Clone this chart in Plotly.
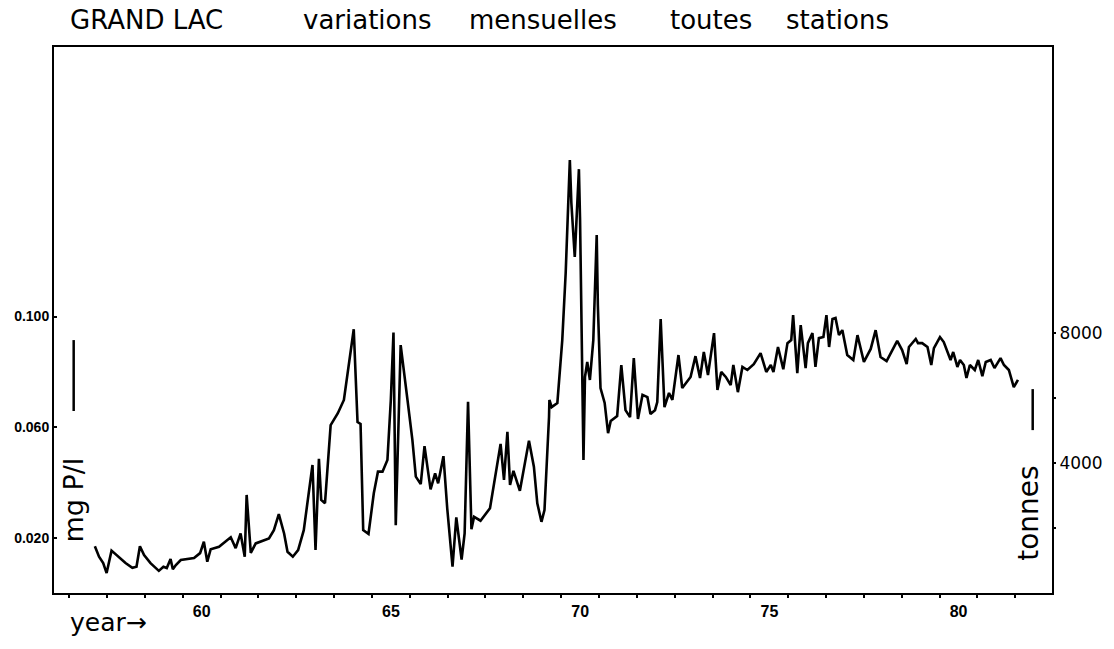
import plotly.graph_objects as go

# ---- data (decimal year, mg P/l) ----
years = [
57.68, 57.79, 57.90, 57.99, 58.12, 58.32, 58.49, 58.67, 58.78, 58.87,
58.98, 59.15, 59.37, 59.49, 59.58, 59.68, 59.74, 59.82, 59.95, 60.30,
60.46, 60.56, 60.65, 60.74, 60.96, 61.27, 61.40, 61.53, 61.64, 61.69,
61.80, 61.93, 62.28, 62.41, 62.54, 62.68, 62.77, 62.91, 63.05, 63.20,
63.34, 63.43, 63.51, 63.60, 63.66, 63.76, 63.91, 64.10, 64.26, 64.39,
64.52, 64.62, 64.70, 64.77, 64.91, 65.05, 65.16, 65.28, 65.41, 65.50,
65.57, 65.63, 65.69, 65.76, 65.94, 66.07, 66.16, 66.29, 66.39, 66.55,
66.67, 66.75, 66.89, 66.99, 67.13, 67.23, 67.37, 67.45, 67.54, 67.63,
67.70, 67.87, 68.12, 68.40, 68.49, 68.58, 68.65, 68.74, 68.91, 69.15,
69.28, 69.37, 69.48, 69.56, 69.68, 69.69, 69.75, 69.90, 70.03, 70.12,
70.23, 70.27, 70.36, 70.41, 70.47, 70.50, 70.56, 70.59, 70.63, 70.69,
70.76, 70.85, 70.94, 70.97, 71.04, 71.15, 71.24, 71.31, 71.48, 71.59,
71.70, 71.82, 71.92, 72.03, 72.15, 72.28, 72.36, 72.48, 72.54, 72.63,
72.73, 72.85, 72.94, 73.10, 73.20, 73.42, 73.55, 73.67, 73.77, 73.88,
74.04, 74.13, 74.23, 74.35, 74.48, 74.55, 74.67, 74.79, 74.92, 75.09,
75.27, 75.42, 75.54, 75.61, 75.73, 75.87, 75.98, 76.08, 76.13, 76.24,
76.33, 76.46, 76.52, 76.64, 76.72, 76.81, 76.93, 77.01, 77.08, 77.17,
77.25, 77.34, 77.43, 77.56, 77.72, 77.83, 78.00, 78.18, 78.31, 78.44,
78.60, 78.72, 78.88, 79.01, 79.13, 79.19, 79.37, 79.43, 79.54, 79.68,
79.78, 79.85, 80.01, 80.11, 80.29, 80.36, 80.47, 80.54, 80.64, 80.71,
80.80, 80.93, 81.02, 81.13, 81.22, 81.35, 81.45, 81.61, 81.70, 81.83,
81.96, 82.07,
]
mg_p_l = [
0.0171, 0.0133, 0.0110, 0.0074, 0.0155, 0.0132, 0.0110, 0.0093, 0.0097, 0.0171,
0.0139, 0.0110, 0.0082, 0.0097, 0.0092, 0.0125, 0.0088, 0.0103, 0.0121, 0.0128,
0.0146, 0.0187, 0.0115, 0.0160, 0.0169, 0.0203, 0.0164, 0.0217, 0.0133, 0.0356,
0.0147, 0.0181, 0.0199, 0.0229, 0.0287, 0.0217, 0.0151, 0.0133, 0.0157, 0.0229,
0.0362, 0.0464, 0.0157, 0.0486, 0.0338, 0.0326, 0.0608, 0.0651, 0.0699, 0.0832,
0.0954, 0.0619, 0.0612, 0.0229, 0.0215, 0.0362, 0.0440, 0.0440, 0.0482, 0.0699,
0.0942, 0.0247, 0.0554, 0.0897, 0.0699, 0.0554, 0.0422, 0.0395, 0.0532, 0.0376,
0.0434, 0.0398, 0.0496, 0.0308, 0.0097, 0.0275, 0.0123, 0.0217, 0.0692, 0.0232,
0.0277, 0.0263, 0.0308, 0.0540, 0.0410, 0.0584, 0.0392, 0.0443, 0.0371, 0.0552,
0.0458, 0.0326, 0.0259, 0.0301, 0.0638, 0.0699, 0.0673, 0.0688, 0.0915, 0.1157,
0.1565, 0.1410, 0.1215, 0.1338, 0.1532, 0.1348, 0.0854, 0.0482, 0.0782, 0.0836,
0.0771, 0.0915, 0.1294, 0.1042, 0.0742, 0.0688, 0.0579, 0.0623, 0.0641, 0.0825,
0.0662, 0.0637, 0.0850, 0.0630, 0.0717, 0.0709, 0.0648, 0.0662, 0.0691, 0.0991,
0.0673, 0.0724, 0.0699, 0.0861, 0.0742, 0.0782, 0.0857, 0.0778, 0.0872, 0.0789,
0.0940, 0.0735, 0.0800, 0.0782, 0.0753, 0.0825, 0.0727, 0.0818, 0.0807, 0.0828,
0.0868, 0.0800, 0.0825, 0.0800, 0.0890, 0.0810, 0.0904, 0.0915, 0.1005, 0.0796,
0.0969, 0.0814, 0.0904, 0.0940, 0.0818, 0.0922, 0.0926, 0.1005, 0.0890, 0.0991,
0.0995, 0.0933, 0.0951, 0.0861, 0.0843, 0.0933, 0.0836, 0.0883, 0.0951, 0.0854,
0.0839, 0.0868, 0.0912, 0.0879, 0.0828, 0.0890, 0.0919, 0.0904, 0.0904, 0.0890,
0.0825, 0.0886, 0.0926, 0.0908, 0.0843, 0.0872, 0.0818, 0.0843, 0.0825, 0.0778,
0.0825, 0.0807, 0.0843, 0.0785, 0.0836, 0.0843, 0.0814, 0.0850, 0.0825, 0.0807,
0.0745, 0.0771,
]

# axis ticks / labels
x_tick_years = list(range(57, 83))
x_label_years = [60, 65, 70, 75, 80]
left_ticks = [0.020, 0.060, 0.100]
left_tick_text = ["0.020", "0.060", "0.100"]
right_ticks = [2000, 4000, 6000, 8000]
right_tick_text = ["", "4000", "", "8000"]

# scale bars drawn beside the axes (year, low, high)
left_bar = (57.12, 0.0659, 0.0915)
right_bar = (82.46, 0.0590, 0.0738)

X_RANGE = [56.60, 82.97]
Y_RANGE = [0.0002, 0.1973]
Y2_RANGE = [9, 16809]

fig = go.Figure()
fig.add_trace(go.Scatter(x=years, y=mg_p_l, mode="lines",
                         line=dict(color="black", width=2.6),
                         showlegend=False, hoverinfo="skip"))
fig.add_trace(go.Scatter(x=[None], y=[None], yaxis="y2", mode="lines",
                         showlegend=False, hoverinfo="skip"))

for bx, lo, hi in (left_bar, right_bar):
    fig.add_shape(type="line", x0=bx, x1=bx, y0=lo, y1=hi, xref="x", yref="y",
                  line=dict(color="black", width=2.5))

fig.update_layout(
    width=1114, height=649,
    margin=dict(l=54, r=62, t=47, b=56),
    paper_bgcolor="white", plot_bgcolor="white",
    xaxis=dict(range=X_RANGE, showgrid=False, zeroline=False,
               showline=True, mirror=True, linecolor="black", linewidth=2,
               tickmode="array", tickvals=x_tick_years,
               ticktext=[str(y) if y in x_label_years else "" for y in x_tick_years],
               ticks="outside", ticklen=3, tickwidth=1.5, tickcolor="black",
               ticklabelshift=19,
               tickfont=dict(family="Liberation Sans", size=16, color="black", weight="bold")),
    yaxis=dict(range=Y_RANGE, showgrid=False, zeroline=False,
               showline=True, mirror=True, linecolor="black", linewidth=2,
               tickmode="array", tickvals=left_ticks, ticktext=left_tick_text,
               ticks="inside", ticklen=3, tickwidth=1.5, tickcolor="black",
               tickfont=dict(family="Liberation Sans", size=14, color="black", weight="bold")),
    yaxis2=dict(range=Y2_RANGE, overlaying="y", side="right", showgrid=False,
                zeroline=False, showline=False,
                tickmode="array", tickvals=right_ticks, ticktext=right_tick_text,
                ticks="outside", ticklen=3, tickwidth=1.5, tickcolor="black",
                tickfont=dict(family="DejaVu Sans", size=17, color="black")),
)

title_font = dict(family="DejaVu Sans", size=26, color="black")
words = [("GRAND LAC", 0.0145), ("variations", 0.2475), ("mensuelles", 0.4134),
         ("toutes", 0.6148), ("stations", 0.7310)]
for txt, xp in words:
    fig.add_annotation(text=txt, xref="paper", yref="paper", x=xp, y=1.0495,
                       xanchor="left", yanchor="middle", showarrow=False,
                       font=title_font)

fig.add_annotation(text="year→", xref="paper", yref="paper", x=0.0145, y=-0.054,
                   xanchor="left", yanchor="middle", showarrow=False,
                   font=dict(family="DejaVu Sans", size=25, color="black"))
fig.add_annotation(text="mg P/l", xref="x", yref="y", x=57.12, y=0.0338,
                   textangle=-90, showarrow=False,
                   font=dict(family="DejaVu Sans", size=27, color="black"))
fig.add_annotation(text="tonnes", xref="x", yref="y", x=82.35, y=0.029,
                   textangle=-90, showarrow=False,
                   font=dict(family="DejaVu Sans", size=28, color="black"))

fig.write_html("out.html")
